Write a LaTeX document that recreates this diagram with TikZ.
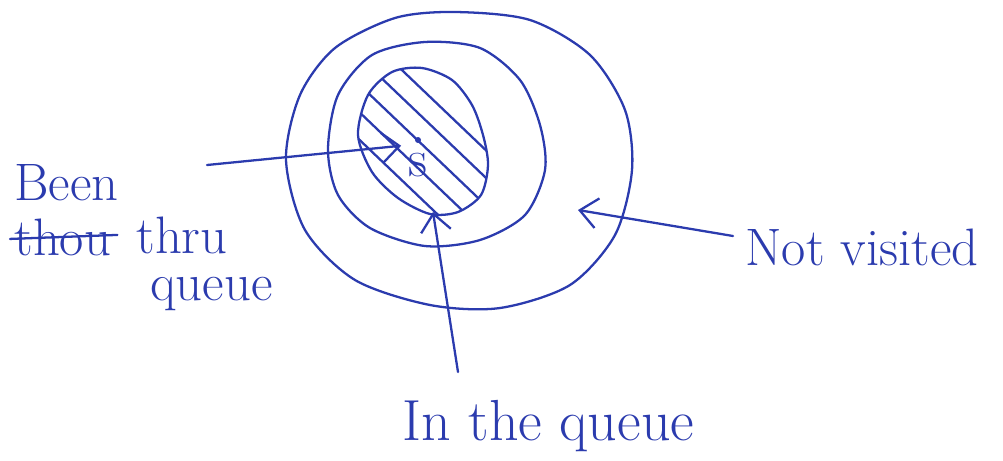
\documentclass[tikz,border=0pt]{standalone}
\usepackage{tikz}
\usetikzlibrary{arrows.meta,positioning,calc}
\definecolor{InkBlue}{HTML}{2B3BAE}

\begin{document}
\begin{tikzpicture}[x=.02cm,y=-.02cm,
  ink/.style={InkBlue,line width=1.3pt,line cap=round,line join=round},
  note/.style={InkBlue,font=\fontsize{30}{34}\selectfont,inner sep=0pt,anchor=base west},
  pointer/.style={ink,-{Straight Barb[length=3.5mm,width=6mm,line width=1.3pt]}}]
  \useasboundingbox (0,0) rectangle (1003,460);
  % outer region
  \draw[ink] plot[smooth cycle] coordinates
    {(286,160)(300,95)(335,48)(395,18)(455,12)(530,20)(590,55)(625,110)
     (632,170)(615,235)(570,285)(500,308)(430,305)(355,280)(305,230)};
  % frontier
  \draw[ink] plot[smooth cycle] coordinates
    {(328,150)(338,95)(372,55)(425,42)(480,48)(520,80)(540,125)(545,170)
     (525,215)(480,240)(425,246)(370,228)(338,195)};
  % done, hatched
  \begin{scope}
    \clip plot[smooth cycle] coordinates
      {(358,135)(368,95)(392,72)(422,68)(452,80)(472,105)(483,135)(488,165)
       (481,195)(458,212)(430,214)(398,198)(372,172)};
    \foreach \k in {-42,-22,...,58}
      \draw[ink] ($(425,150)+\k*(-.69,.72)$) +(-110,-105) -- +(110,105);
  \end{scope}
  \draw[ink] plot[smooth cycle] coordinates
    {(358,135)(368,95)(392,72)(422,68)(452,80)(472,105)(483,135)(488,165)
     (481,195)(458,212)(430,214)(398,198)(372,172)};
  \node[note,anchor=center,inner sep=4pt] (src) at (418,165) {s};
  \fill[InkBlue] (418,140) circle (3);
  % labels
  \node[note] (been) at (14,200) {Been};
  \node[note] (thou) at (14,255) {thou};
  \node[note] (thru) at (136,253) {thru};
  \node[note] (queue) at (150,300) {queue};
  \node[note,font=\fontsize{33}{36}\selectfont] (inq) at (402,440) {In the queue};
  \node[note] (notv) at (745,265) {Not visited};
  \draw[ink] ($(thou.west)+(-4,2)$) -- ($(thou.east)+(6,-2)$);
  % arrows
  \coordinate (beentail) at (207,165);
  \coordinate (inqtail) at (458,372);
  \coordinate (inqtip) at (433,212);
  \coordinate (notvtail) at (733,236);
  \coordinate (notvtip) at (578,210);
  \draw[pointer] (beentail) -- (src.north west);
  \draw[pointer] (inqtail) -- (inqtip);
  \draw[pointer] (notvtail) -- (notvtip);
\end{tikzpicture}
\end{document}
